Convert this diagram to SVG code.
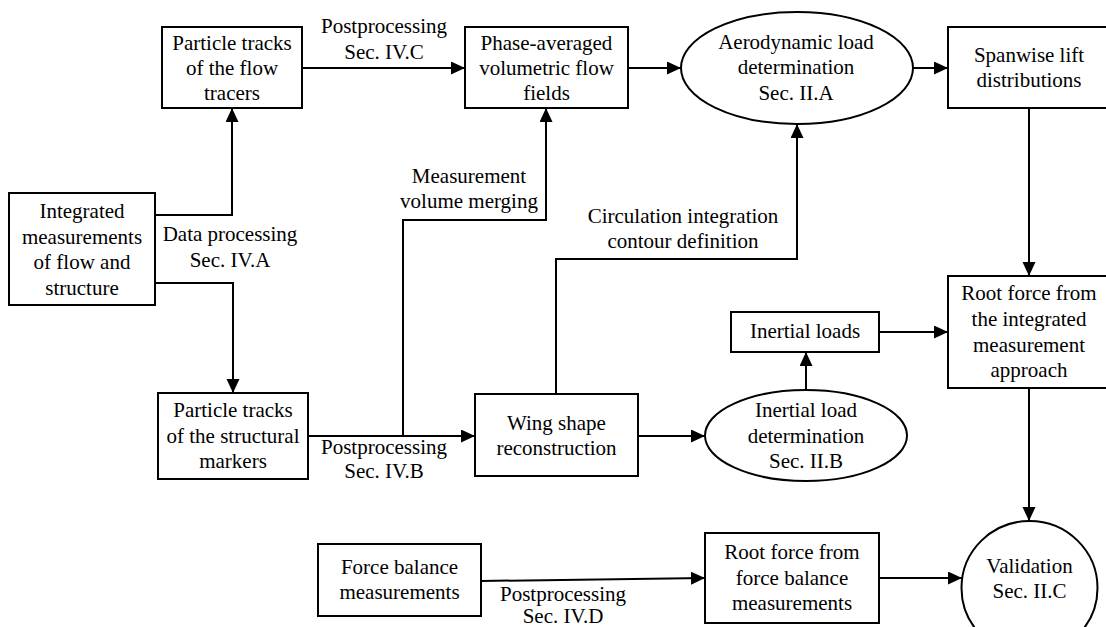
<svg xmlns="http://www.w3.org/2000/svg" width="1106" height="627" viewBox="0 0 1106 627">
<style>
.n{fill:#fff;stroke:#000;stroke-width:2}
.c{fill:none;stroke:#000;stroke-width:2}
text{font-family:'Liberation Serif','DejaVu Serif',serif;font-size:21px;fill:#000;text-anchor:middle}
</style>
<defs>
<marker id="ah" markerUnits="userSpaceOnUse" markerWidth="14" markerHeight="14" refX="14" refY="6.5" orient="auto">
<path d="M0,0 L14,6.5 L0,13 Z" fill="#000"/>
</marker>
</defs>
<rect width="1106" height="627" fill="#fff"/>
<g id="connectors" class="c" marker-end="url(#ah)">
<path d="M155,215 H232 V108"/>
<path d="M155,283 H233 V393"/>
<path d="M302,68 H465"/>
<path d="M628,68 H681"/>
<path d="M913,68 H948"/>
<path d="M1029,108 V276"/>
<path d="M308,436 H475"/>
<path d="M403,436 V220 H546 V108"/>
<path d="M556,394 V259 H797 V124"/>
<path d="M638,436 H705"/>
<path d="M806,390 V352"/>
<path d="M879,332 H948"/>
<path d="M1029,388 V521"/>
<path d="M481,581 L705,578"/>
<path d="M879,578 H962"/>
</g>
<g id="labels" font-family="Liberation Serif, DejaVu Serif, serif">
<text x="384" y="33">Postprocessing</text><text x="384" y="59">Sec. IV.C</text>
<text x="230" y="241">Data processing</text><text x="230" y="267">Sec. IV.A</text>
<text x="469" y="183">Measurement</text><text x="469" y="208">volume merging</text>
<text x="683" y="223">Circulation integration</text><text x="683" y="248">contour definition</text>
<text x="384" y="454">Postprocessing</text><text x="384" y="478">Sec. IV.B</text>
<text x="563" y="601">Postprocessing</text><text x="563" y="623">Sec. IV.D</text>
</g>
<g id="integrated"><rect class="n" x="9" y="193" width="146" height="112"/>
<text x="82" y="218">Integrated</text><text x="82" y="244">measurements</text><text x="82" y="269">of flow and</text><text x="82" y="295">structure</text></g>
<g id="tracers"><rect class="n" x="162" y="27" width="140" height="81"/>
<text x="232" y="50">Particle tracks</text><text x="232" y="75">of the flow</text><text x="232" y="100">tracers</text></g>
<g id="phase"><rect class="n" x="465" y="27" width="163" height="81"/>
<text x="546.5" y="50">Phase-averaged</text><text x="546.5" y="75">volumetric flow</text><text x="546.5" y="100">fields</text></g>
<g id="aero"><ellipse class="n" cx="797" cy="68" rx="116" ry="56"/>
<text x="796" y="49">Aerodynamic load</text><text x="796" y="74">determination</text><text x="796" y="100">Sec. II.A</text></g>
<g id="spanwise"><rect class="n" x="948" y="27" width="162" height="81"/>
<text x="1029" y="62">Spanwise lift</text><text x="1029" y="87">distributions</text></g>
<g id="rootint"><rect class="n" x="948" y="276" width="162" height="112"/>
<text x="1029" y="300">Root force from</text><text x="1029" y="326">the integrated</text><text x="1029" y="352">measurement</text><text x="1029" y="377">approach</text></g>
<g id="structural"><rect class="n" x="158" y="393" width="150" height="86"/>
<text x="233" y="417">Particle tracks</text><text x="233" y="443">of the structural</text><text x="233" y="468">markers</text></g>
<g id="wing"><rect class="n" x="475" y="394" width="163" height="82"/>
<text x="556.5" y="430">Wing shape</text><text x="556.5" y="455">reconstruction</text></g>
<g id="inertialloads"><rect class="n" x="731" y="312" width="148" height="40"/>
<text x="805" y="338">Inertial loads</text></g>
<g id="inertial"><ellipse class="n" cx="806" cy="435.5" rx="101" ry="45.5"/>
<text x="806" y="417">Inertial load</text><text x="806" y="443">determination</text><text x="806" y="468">Sec. II.B</text></g>
<g id="forcebalance"><rect class="n" x="318" y="544" width="163" height="72"/>
<text x="399.5" y="574">Force balance</text><text x="399.5" y="599">measurements</text></g>
<g id="rootfb"><rect class="n" x="705" y="533" width="174" height="90"/>
<text x="792" y="559">Root force from</text><text x="792" y="585">force balance</text><text x="792" y="610">measurements</text></g>
<g id="validation"><ellipse class="n" cx="1029.5" cy="588" rx="68" ry="67"/>
<text x="1029.5" y="573">Validation</text><text x="1029.5" y="598">Sec. II.C</text></g>
</svg>
